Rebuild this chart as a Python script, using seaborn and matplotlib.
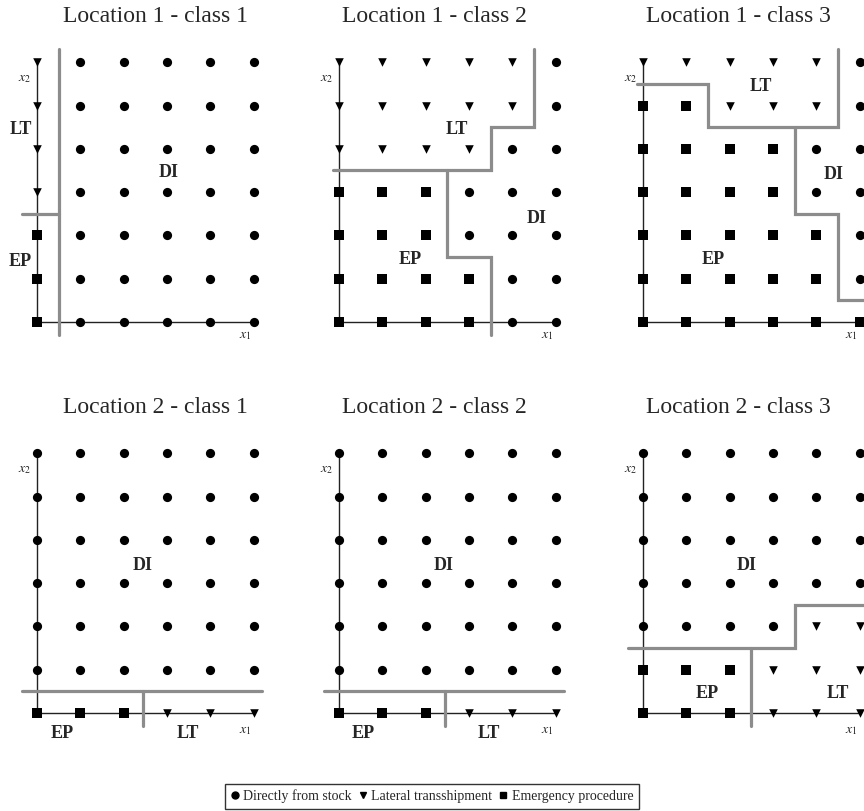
import numpy as np
import pandas as pd
import matplotlib.pyplot as plt
import seaborn as sns
from matplotlib.lines import Line2D

sns.set_style('white')
plt.rcParams['font.family'] = ['Liberation Serif', 'DejaVu Serif']
plt.rcParams['mathtext.fontset'] = 'stix'

# decision per grid point, rows from x2=6 (top) to x2=0, columns x1=0..5
# D = directly from stock, L = lateral transshipment, E = emergency procedure
grid_l1_c1 = ["LDDDDD", "LDDDDD", "LDDDDD", "LDDDDD", "EDDDDD", "EDDDDD", "EDDDDD"]
grid_l1_c2 = ["LLLLLD", "LLLLLD", "LLLLDD", "EEEDDD", "EEEDDD", "EEEEDD", "EEEEDD"]
grid_l1_c3 = ["LLLLLD", "EELLLD", "EEEEDD", "EEEEDD", "EEEEED", "EEEEED", "EEEEEE"]
grid_l2_c1 = ["DDDDDD", "DDDDDD", "DDDDDD", "DDDDDD", "DDDDDD", "DDDDDD", "EEELLL"]
grid_l2_c2 = ["DDDDDD", "DDDDDD", "DDDDDD", "DDDDDD", "DDDDDD", "DDDDDD", "EEELLL"]
grid_l2_c3 = ["DDDDDD", "DDDDDD", "DDDDDD", "DDDDDD", "DDDDLL", "EEELLL", "EEELLL"]

# boundary polylines between the regions
bounds_l1_c1 = [[(-0.35, 2.5), (0.5, 2.5)], [(0.5, -0.3), (0.5, 6.3)]]
bounds_l1_c2 = [[(-0.15, 3.5), (3.5, 3.5), (3.5, 4.5), (4.5, 4.5), (4.5, 6.3)],
                [(2.5, 3.5), (2.5, 1.5), (3.5, 1.5), (3.5, -0.3)]]
bounds_l1_c3 = [[(-0.15, 5.5), (1.5, 5.5), (1.5, 4.5), (4.5, 4.5), (4.5, 6.3)],
                [(3.5, 4.5), (3.5, 2.5), (4.5, 2.5), (4.5, 0.5), (5.8, 0.5)]]
bounds_l2_c1 = [[(-0.35, 0.5), (5.2, 0.5)], [(2.45, 0.5), (2.45, -0.3)]]
bounds_l2_c2 = [[(-0.35, 0.5), (5.2, 0.5)], [(2.45, 0.5), (2.45, -0.3)]]
bounds_l2_c3 = [[(-0.35, 1.5), (3.5, 1.5), (3.5, 2.5), (5.8, 2.5)],
                [(2.5, 1.5), (2.5, -0.3)]]

# region labels (text, x1, x2)
labels_l1_c1 = [("LT", -0.38, 4.45), ("EP", -0.38, 1.4), ("DI", 3.05, 3.45)]
labels_l1_c2 = [("LT", 2.72, 4.45), ("EP", 1.64, 1.45), ("DI", 4.57, 2.4)]
labels_l1_c3 = [("LT", 2.72, 5.45), ("EP", 1.62, 1.45), ("DI", 4.4, 3.4)]
labels_l2_c1 = [("DI", 2.44, 3.4), ("EP", 0.58, -0.48), ("LT", 3.49, -0.48)]
labels_l2_c2 = [("DI", 2.42, 3.4), ("EP", 0.55, -0.48), ("LT", 3.47, -0.48)]
labels_l2_c3 = [("DI", 2.4, 3.4), ("EP", 1.48, 0.45), ("LT", 4.5, 0.45)]

titles = ["Location 1 - class 1", "Location 1 - class 2", "Location 1 - class 3",
          "Location 2 - class 1", "Location 2 - class 2", "Location 2 - class 3"]
title_x = [2.73, 2.2, 2.2, 2.73, 2.2, 2.2]

grids = [grid_l1_c1, grid_l1_c2, grid_l1_c3, grid_l2_c1, grid_l2_c2, grid_l2_c3]
bounds = [bounds_l1_c1, bounds_l1_c2, bounds_l1_c3, bounds_l2_c1, bounds_l2_c2, bounds_l2_c3]
labels = [labels_l1_c1, labels_l1_c2, labels_l1_c3, labels_l2_c1, labels_l2_c2, labels_l2_c3]

marker_of = {"D": "o", "L": "v", "E": "s"}
size_of = {"D": 44, "L": 38, "E": 46}
legend_names = {"D": "Directly from stock", "L": "Lateral transshipment", "E": "Emergency procedure"}

W, H = 864, 811
u = 43.3
origins_x = [37, 339, 643]
origins_y = [322, 713]

fig = plt.figure(figsize=(W / 100, H / 100), dpi=100)

for i in range(6):
    ox = origins_x[i % 3]
    oy = origins_y[i // 3]
    xl, xr, yb, yt = -0.8, 5.8, -0.7, 6.6
    ax = fig.add_axes([(ox + xl * u) / W, 1 - (oy - yb * u) / H,
                       (xr - xl) * u / W, (yt - yb) * u / H])
    ax.set_xlim(xl, xr)
    ax.set_ylim(yb, yt)
    ax.axis('off')

    rows = []
    for r, line in enumerate(grids[i]):
        for c, k in enumerate(line):
            rows.append({"x1": c, "x2": 6 - r, "kind": k})
    df = pd.DataFrame(rows)

    # axes
    ax.plot([0, 0], [0, 6], color='#222222', lw=1.0, zorder=1)
    ax.plot([0, 5], [0, 0], color='#222222', lw=1.0, zorder=1)

    for seg in bounds[i]:
        xs, ys = zip(*seg)
        ax.plot(xs, ys, color='#8c8c8c', lw=2.3, zorder=2, solid_joinstyle='miter')

    for k in ["D", "L", "E"]:
        sub = df[df["kind"] == k]
        if len(sub):
            sns.scatterplot(data=sub, x="x1", y="x2", marker=marker_of[k], s=size_of[k],
                            color='black', linewidth=0, ax=ax, zorder=3, legend=False)
    ax.set_xlabel('')
    ax.set_ylabel('')

    for txt, lx, ly in labels[i]:
        ax.text(lx, ly, txt, ha='center', va='center', fontsize=13, fontweight='bold')

    ax.text(-0.28, 5.63, r'$x_2$', ha='center', va='center', fontsize=10)
    ax.text(4.8, -0.32 if i < 3 else -0.4, r'$x_1$', ha='center', va='center', fontsize=10)
    ax.text(title_x[i], 7.05, titles[i], ha='center', va='center', fontsize=17, clip_on=False)

handles = [Line2D([], [], marker=marker_of[k], color='black', linestyle='none',
                  markersize=5 if k != "L" else 4.5) for k in ["D", "L", "E"]]
leg = fig.legend(handles, [legend_names[k] for k in ["D", "L", "E"]], loc='lower center',
                 bbox_to_anchor=(0.5, 0.003), ncol=3, frameon=True, fancybox=False,
                 edgecolor='black', fontsize=10, handlelength=0.6, handletextpad=0.3,
                 columnspacing=0.5, borderpad=0.4, borderaxespad=0)
leg.get_frame().set_linewidth(1.0)

fig.savefig('out.png', dpi=100)
